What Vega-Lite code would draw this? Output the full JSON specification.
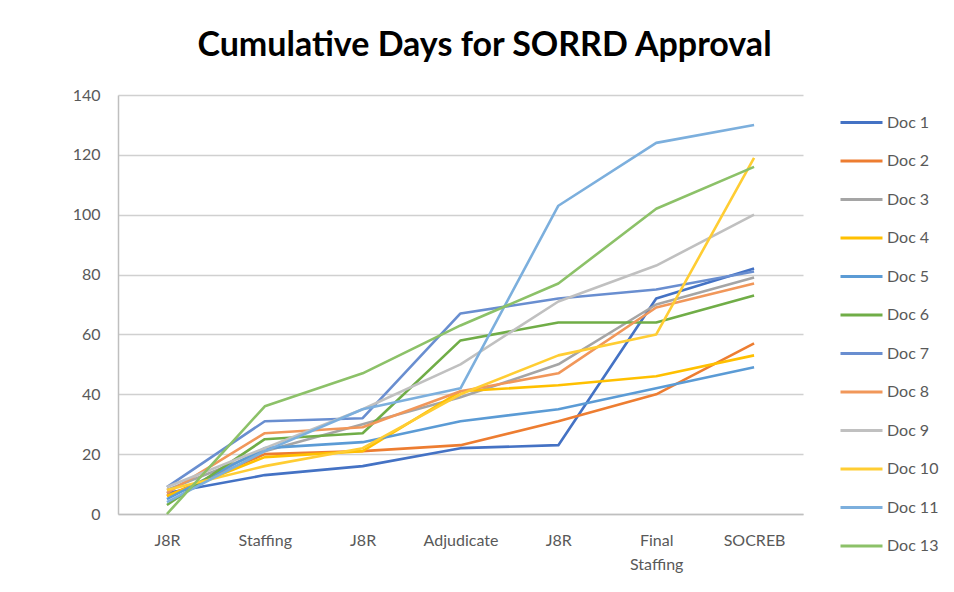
{
  "$schema": "https://vega.github.io/schema/vega-lite/v6.json",
  "width": 685,
  "height": 419,
  "autosize": {"type": "none"},
  "padding": {"left": 118, "top": 95, "right": 151, "bottom": 78},
  "background": "white",
  "title": {
    "text": "Cumulative Days for SORRD Approval",
    "font": "Lato",
    "fontSize": 34,
    "fontWeight": "bold",
    "color": "#000000",
    "anchor": "middle",
    "frame": "group",
    "dx": 24,
    "offset": 24
  },
  "datasets": {
    "docs": [
      {"doc": "Doc 1", "step": 1, "days": 7}, {"doc": "Doc 1", "step": 2, "days": 13}, {"doc": "Doc 1", "step": 3, "days": 16}, {"doc": "Doc 1", "step": 4, "days": 22}, {"doc": "Doc 1", "step": 5, "days": 23}, {"doc": "Doc 1", "step": 6, "days": 72}, {"doc": "Doc 1", "step": 7, "days": 82},
      {"doc": "Doc 2", "step": 1, "days": 6}, {"doc": "Doc 2", "step": 2, "days": 20}, {"doc": "Doc 2", "step": 3, "days": 21}, {"doc": "Doc 2", "step": 4, "days": 23}, {"doc": "Doc 2", "step": 5, "days": 31}, {"doc": "Doc 2", "step": 6, "days": 40}, {"doc": "Doc 2", "step": 7, "days": 57},
      {"doc": "Doc 3", "step": 1, "days": 8}, {"doc": "Doc 3", "step": 2, "days": 21}, {"doc": "Doc 3", "step": 3, "days": 30}, {"doc": "Doc 3", "step": 4, "days": 39}, {"doc": "Doc 3", "step": 5, "days": 50}, {"doc": "Doc 3", "step": 6, "days": 70}, {"doc": "Doc 3", "step": 7, "days": 79},
      {"doc": "Doc 4", "step": 1, "days": 6}, {"doc": "Doc 4", "step": 2, "days": 19}, {"doc": "Doc 4", "step": 3, "days": 21}, {"doc": "Doc 4", "step": 4, "days": 41}, {"doc": "Doc 4", "step": 5, "days": 43}, {"doc": "Doc 4", "step": 6, "days": 46}, {"doc": "Doc 4", "step": 7, "days": 53},
      {"doc": "Doc 5", "step": 1, "days": 5}, {"doc": "Doc 5", "step": 2, "days": 22}, {"doc": "Doc 5", "step": 3, "days": 24}, {"doc": "Doc 5", "step": 4, "days": 31}, {"doc": "Doc 5", "step": 5, "days": 35}, {"doc": "Doc 5", "step": 6, "days": 42}, {"doc": "Doc 5", "step": 7, "days": 49},
      {"doc": "Doc 6", "step": 1, "days": 3}, {"doc": "Doc 6", "step": 2, "days": 25}, {"doc": "Doc 6", "step": 3, "days": 27}, {"doc": "Doc 6", "step": 4, "days": 58}, {"doc": "Doc 6", "step": 5, "days": 64}, {"doc": "Doc 6", "step": 6, "days": 64}, {"doc": "Doc 6", "step": 7, "days": 73},
      {"doc": "Doc 7", "step": 1, "days": 9}, {"doc": "Doc 7", "step": 2, "days": 31}, {"doc": "Doc 7", "step": 3, "days": 32}, {"doc": "Doc 7", "step": 4, "days": 67}, {"doc": "Doc 7", "step": 5, "days": 72}, {"doc": "Doc 7", "step": 6, "days": 75}, {"doc": "Doc 7", "step": 7, "days": 81},
      {"doc": "Doc 8", "step": 1, "days": 7}, {"doc": "Doc 8", "step": 2, "days": 27}, {"doc": "Doc 8", "step": 3, "days": 29}, {"doc": "Doc 8", "step": 4, "days": 41}, {"doc": "Doc 8", "step": 5, "days": 47}, {"doc": "Doc 8", "step": 6, "days": 69}, {"doc": "Doc 8", "step": 7, "days": 77},
      {"doc": "Doc 9", "step": 1, "days": 9}, {"doc": "Doc 9", "step": 2, "days": 22}, {"doc": "Doc 9", "step": 3, "days": 35}, {"doc": "Doc 9", "step": 4, "days": 50}, {"doc": "Doc 9", "step": 5, "days": 71}, {"doc": "Doc 9", "step": 6, "days": 83}, {"doc": "Doc 9", "step": 7, "days": 100},
      {"doc": "Doc 10", "step": 1, "days": 8}, {"doc": "Doc 10", "step": 2, "days": 16}, {"doc": "Doc 10", "step": 3, "days": 22}, {"doc": "Doc 10", "step": 4, "days": 40}, {"doc": "Doc 10", "step": 5, "days": 53}, {"doc": "Doc 10", "step": 6, "days": 60}, {"doc": "Doc 10", "step": 7, "days": 119},
      {"doc": "Doc 11", "step": 1, "days": 4}, {"doc": "Doc 11", "step": 2, "days": 21}, {"doc": "Doc 11", "step": 3, "days": 35}, {"doc": "Doc 11", "step": 4, "days": 42}, {"doc": "Doc 11", "step": 5, "days": 103}, {"doc": "Doc 11", "step": 6, "days": 124}, {"doc": "Doc 11", "step": 7, "days": 130},
      {"doc": "Doc 13", "step": 1, "days": 0}, {"doc": "Doc 13", "step": 2, "days": 36}, {"doc": "Doc 13", "step": 3, "days": 47}, {"doc": "Doc 13", "step": 4, "days": 63}, {"doc": "Doc 13", "step": 5, "days": 77}, {"doc": "Doc 13", "step": 6, "days": 102}, {"doc": "Doc 13", "step": 7, "days": 116}
    ]
  },
  "data": {"name": "docs"},
  "mark": {"type": "line", "strokeWidth": 2.6, "strokeJoin": "round"},
  "encoding": {
    "x": {
      "field": "step",
      "type": "ordinal",
      "scale": {"type": "point", "padding": 0.5},
      "axis": {
        "title": null,
        "labelAngle": 0,
        "labelExpr": "[['J8R'],['Staffing'],['J8R'],['Adjudicate'],['J8R'],['Final','Staffing'],['SOCREB']][datum.value-1]",
        "labelFont": "Lato",
        "labelFontSize": 16,
        "labelColor": "#595959",
        "labelPadding": 18,
        "labelLineHeight": 24,
        "labelBaseline": "top",
        "ticks": false,
        "domainColor": "#bfbfbf",
        "domainWidth": 1.5,
        "grid": false
      }
    },
    "y": {
      "field": "days",
      "type": "quantitative",
      "scale": {"domain": [0, 140], "nice": false},
      "axis": {
        "title": null,
        "values": [0, 20, 40, 60, 80, 100, 120, 140],
        "labelFont": "Lato",
        "labelFontSize": 16,
        "labelColor": "#595959",
        "labelPadding": 18,
        "ticks": false,
        "domainColor": "#bfbfbf",
        "domainWidth": 1.5,
        "gridColor": "#d0d0d0",
        "gridWidth": 1.5
      }
    },
    "color": {
      "field": "doc",
      "type": "nominal",
      "scale": {
        "domain": ["Doc 1", "Doc 2", "Doc 3", "Doc 4", "Doc 5", "Doc 6", "Doc 7", "Doc 8", "Doc 9", "Doc 10", "Doc 11", "Doc 13"],
        "range": ["#4472C4", "#ED7D31", "#A5A5A5", "#FFC000", "#5B9BD5", "#70AD47", "#698ED0", "#F1975A", "#C0C0C0", "#FFCD33", "#7CAFDD", "#8CC168"]
      },
      "legend": {
        "title": null,
        "orient": "right",
        "offset": 31,
        "padding": 5,
        "symbolType": "stroke",
        "symbolSize": 1764,
        "symbolStrokeWidth": 3,
        "rowPadding": 7.5,
        "labelOffset": 3,
        "labelFont": "Lato",
        "labelFontSize": 16,
        "labelColor": "#595959"
      }
    },
    "order": {"field": "step"}
  },
  "config": {"view": {"stroke": null}}
}
